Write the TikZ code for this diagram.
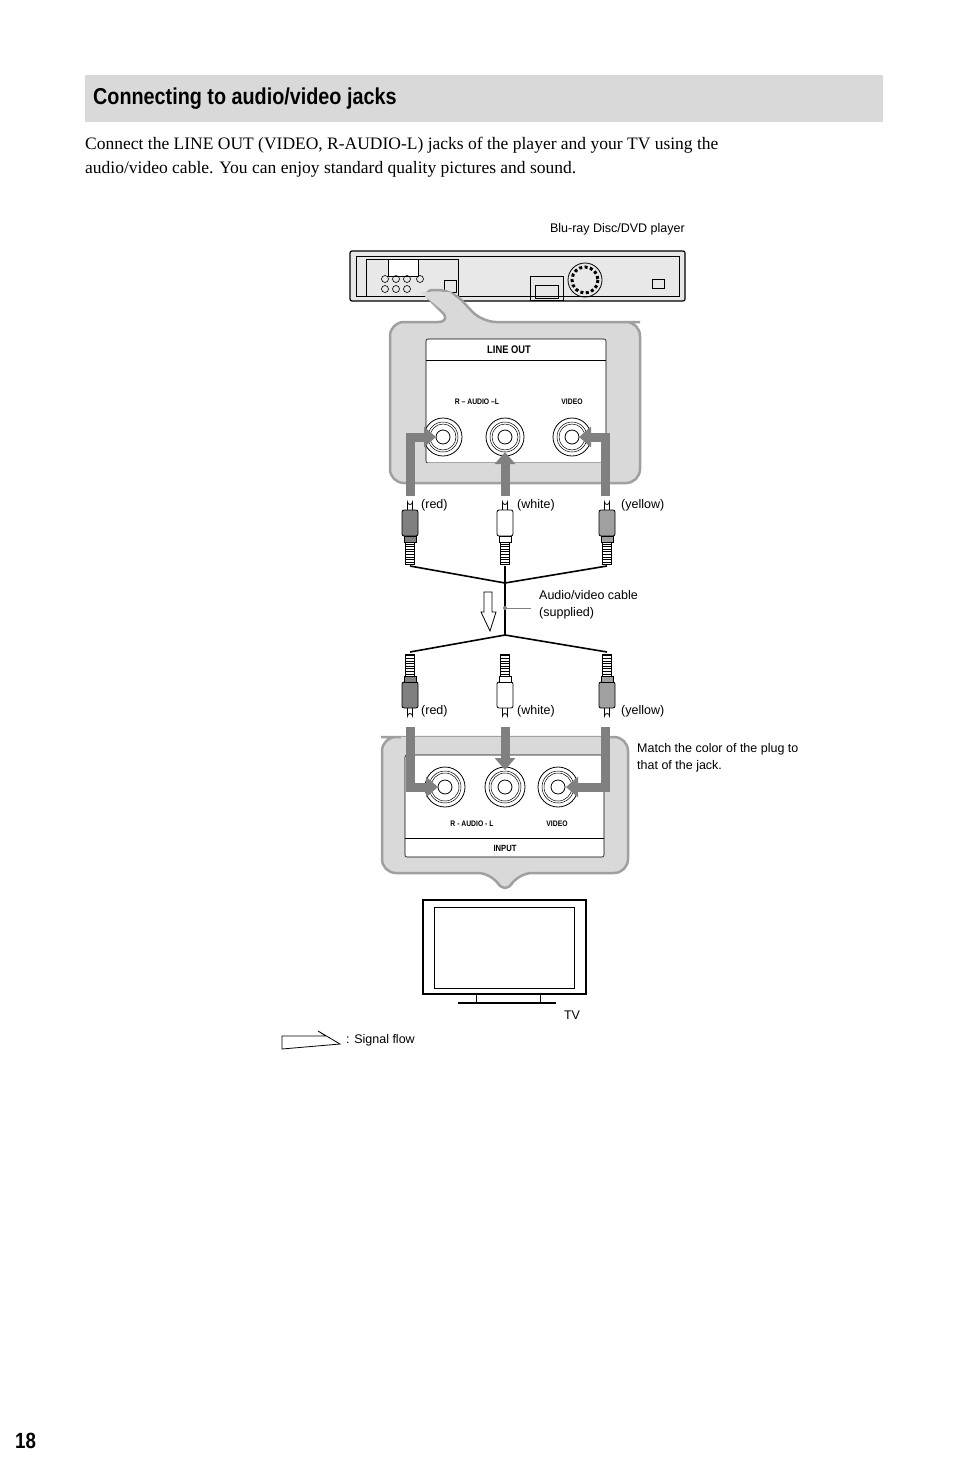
\documentclass[tikz,border=0pt]{standalone}
\usepackage{fontspec}
\setmainfont{Liberation Serif}
\setsansfont{Liberation Sans}
\usetikzlibrary{arrows.meta}
\definecolor{cg}{HTML}{D9D9D9}
\definecolor{cb}{HTML}{A0A0A0}
\definecolor{ar}{HTML}{808080}
\tikzset{
 lab/.style={font=\sffamily\fontsize{12.5}{14}\selectfont,inner sep=0pt},
 panlab/.style={font=\sffamily\bfseries\fontsize{8}{9}\selectfont,inner sep=0pt,xscale=0.85},
 flow/.style={draw=ar,line width=9pt,-{Triangle[length=12pt,width=20pt]}},
 callout/.style={fill=cg,draw=cb,line width=2.5pt,rounded corners=14pt},
 cab/.style={line width=1.6pt},
}
\newcommand{\myplug}[4]{% x y dir fill
\begin{scope}[shift={(#1,#2)},yscale=#3]
 \draw[fill=white,line width=0.8pt] (-2.5,10) -- (-2.5,2) arc(180:0:2.5) -- (2.5,10);
 \draw[fill=#4,line width=0.8pt,rounded corners=2pt] (-8,10) rectangle (8,36);
 \draw[fill=#4,line width=0.8pt] (-6,36) rectangle (6,42);
 \draw[fill=white,line width=0.8pt] (-4.5,42) rectangle (4.5,64);
 \foreach \k in {0,...,7} \draw[line width=0.9pt] (-4.5,44+2.6*\k) -- (4.5,44+2.6*\k);
\end{scope}}
\begin{document}
\begin{tikzpicture}[x=1pt,y=-1pt]
\useasboundingbox[fill=white] (0,0) rectangle (954,1483);
% header
\fill[cg] (85,75) rectangle (883,122);
\node[anchor=west,inner sep=0pt,font=\sffamily\bfseries\fontsize{23}{26}\selectfont,xscale=0.86] (title) at (93,99) {Connecting to audio/video jacks};
\node[anchor=north west,inner sep=0pt,align=left,font=\fontsize{17.5}{24}\selectfont] (body) at (85,137) {Connect the LINE OUT (VIDEO, R-AUDIO-L) jacks of the player and your TV using the\\audio/video cable. You can enjoy standard quality pictures and sound.};
\node[lab,anchor=east] (plabel) at (685,229) {Blu-ray Disc/DVD player};
% player
\draw[fill=cg!60,line width=1.2pt,rounded corners=2pt] (350,251) rectangle (685,301);
\draw[line width=0.6pt] (356,256) rectangle (679,296);
\draw[line width=0.6pt] (366,259) rectangle (458,296);
\draw[fill=white,line width=0.6pt] (388,259) rectangle (418,276);
\foreach \xx in {385,396,407,420} \draw[line width=0.6pt] (\xx,279) circle (3.5);
\foreach \xx in {385,396,407} \draw[line width=0.6pt] (\xx,289) circle (3.5);
\draw[line width=0.6pt] (444,280) rectangle (456,292);
\draw[line width=0.6pt] (530,276) rectangle (563,300);
\draw[line width=0.6pt] (535,285) rectangle (558,298);
\draw[line width=0.8pt] (585,280) circle (17);
\draw[line width=3pt,dash pattern=on 3pt off 2.5pt] (585,280) circle (13);
\draw[line width=0.6pt] (652,279) rectangle (664,288);
% callout top
\path[callout] (420,290) -- (452,290) -- (482,322) -- (626,322) -- (640,322) -- (640,483) -- (390,483) -- (390,322) -- (452,322) -- cycle;
\fill[cg] (420,292) -- (450,292) -- (478,321) -- (455,321) -- cycle;
\draw[fill=white,line width=0.6pt,rounded corners=2pt] (426,339) rectangle (606,463);
\draw[line width=0.6pt] (426,360) -- (606,360);
\node[panlab,font=\sffamily\bfseries\fontsize{11}{12}\selectfont] (lo) at (509,350) {LINE OUT};
\node[panlab] (ra) at (477,402) {R -- AUDIO --L};
\node[panlab] (vi) at (572,402) {VIDEO};
\foreach \n/\xx in {j1/443,j2/505,j3/572}{
 \node[circle,draw,minimum size=38pt,inner sep=0pt,line width=0.8pt,fill=white] (\n) at (\xx,437) {};
 \draw[line width=0.5pt] (\xx,437) circle (15) (\xx,437) circle (13);
 \draw[line width=0.8pt] (\xx,437) circle (7);}
\fill[cg] (426,463) rectangle (606,467);
\draw[flow] (410,496) -- (410,437) -- (436,437);
\draw[flow] (505,496) -- (505,452);
\draw[flow] (605,496) -- (605,437) -- (579,437);
% cables
\coordinate (jt) at (505,583);
\coordinate (jb) at (505,635);
\draw[cab] (410,566) -- (jt) -- (607,566);
\draw[cab,line width=2.2pt] (505,566) -- (jb);
\draw[cab] (410,652) -- (jb) -- (607,652);
% plugs
\myplug{410}{500}{1}{ar}
\myplug{505}{500}{1}{white}
\myplug{607}{500}{1}{cb}
\myplug{410}{718}{-1}{ar}
\myplug{505}{718}{-1}{white}
\myplug{607}{718}{-1}{cb}
\node[lab,anchor=west] (r1) at (421,505) {(red)};
\node[lab,anchor=west] (w1) at (517,505) {(white)};
\node[lab,anchor=west] (y1) at (621,505) {(yellow)};
\node[lab,anchor=west] (r2) at (421,711) {(red)};
\node[lab,anchor=west] (w2) at (517,711) {(white)};
\node[lab,anchor=west] (y2) at (621,711) {(yellow)};
% hollow arrow
\draw[line width=0.8pt,fill=white] (484,592) -- (492,592) -- (492,612) -- (496,612) -- (490,631) -- (481,612) -- (484,612) -- cycle;
\node[lab,anchor=west,align=left] (cabl) at (539,605) {Audio/video cable\\[3pt](supplied)};
\draw[line width=0.8pt,draw=ar] (505,608) -- (531,608);
\fill[ar] (505,608) circle (2);
% input callout
\path[callout] (395,737) -- (628,737) -- (628,873) -- (518,873) -- (505,895) -- (492,873) -- (382,873) -- (382,737) -- cycle;
\draw[fill=white,line width=0.6pt,rounded corners=2pt] (405,755) rectangle (604,857);
\draw[line width=0.6pt] (405,838) -- (604,838);
\node[panlab] (ra2) at (472,824) {R - AUDIO - L};
\node[panlab] (vi2) at (557,824) {VIDEO};
\node[panlab,font=\sffamily\bfseries\fontsize{9}{10}\selectfont] (inp) at (505,848) {INPUT};
\foreach \n/\xx in {k1/445,k2/505,k3/558}{
 \node[circle,draw,minimum size=40pt,inner sep=0pt,line width=0.8pt,fill=white] (\n) at (\xx,787) {};
 \draw[line width=0.5pt] (\xx,787) circle (16) (\xx,787) circle (14);
 \draw[line width=0.8pt] (\xx,787) circle (7);}
\fill[cg] (401,737) rectangle (608,752);
\draw[flow] (410,727) -- (410,787) -- (438,787);
\draw[flow] (505,727) -- (505,770);
\draw[flow] (605,727) -- (605,787) -- (566,787);
\node[lab,anchor=west,align=left] (match) at (637,758) {Match the color of the plug to\\[3pt]that of the jack.};
% TV
\draw[line width=1.6pt] (423,900) rectangle (586,994);
\draw[line width=0.8pt] (434,907) rectangle (574,988);
\draw[line width=1pt] (476,994) rectangle (540,1003);
\draw[line width=1.6pt] (458,1003) -- (556,1003);
\node[lab] (tv) at (572,1015) {TV};
% legend
\draw[line width=0.8pt,fill=white] (282,1036) -- (326,1036) -- (318,1031) -- (340,1044) -- (282,1049) -- cycle;
\node[lab,anchor=west] (sf) at (346,1040) {: Signal flow};
\node[anchor=west,inner sep=0pt,font=\sffamily\bfseries\fontsize{22}{24}\selectfont,xscale=0.85] (pg) at (15,1441) {18};
\end{tikzpicture}
\end{document}
